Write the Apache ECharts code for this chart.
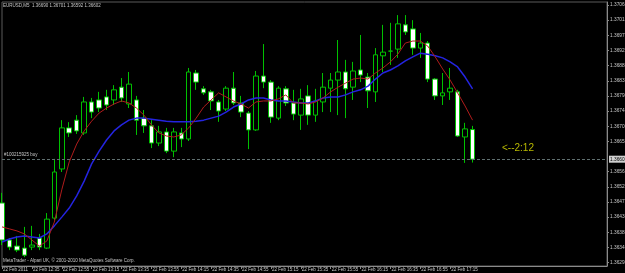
<!DOCTYPE html>
<html><head><meta charset="utf-8">
<script src="https://cdn.jsdelivr.net/npm/echarts@6/dist/echarts.min.js"></script>
<style>html,body{margin:0;padding:0;background:#000;}#c{width:625px;height:273px;}</style>
</head><body><div id="c"></div>
<script>
const symbolTitle = 'EURUSD,M5';
const titleValues = ['1.36690', '1.36701', '1.36592', '1.36602'];
const dateLabel = '22 Feb 2011';
const dayPrefix = '22 Feb ';
const barTimes = ['12:15','12:20','12:25','12:30','12:35','12:40','12:45','12:50','12:55','13:00',
  '13:05','13:10','13:15','13:20','13:25','13:30','13:35','13:40','13:45','13:50',
  '13:55','14:00','14:05','14:10','14:15','14:20','14:25','14:30','14:35','14:40',
  '14:45','14:50','14:55','15:00','15:05','15:10','15:15','15:20','15:25','15:30',
  '15:35','15:40','15:45','15:50','15:55','16:00','16:05','16:10','16:15','16:20',
  '16:25','16:30','16:35','16:40','16:45','16:50','16:55','17:00','17:05','17:10',
  '17:15','17:20','17:25','17:30'];
const openP = [1.36472,1.36362,1.36344,1.36338,1.36341,1.36368,1.36338,1.36427,1.36573,1.36695,
  1.36718,1.36680,1.36772,1.36778,1.36787,1.36778,1.36816,1.36766,1.36778,1.36724,
  1.36701,1.36650,1.36683,1.36626,1.36680,1.36662,1.36858,1.36811,1.36802,1.36772,
  1.36751,1.36813,1.36769,1.36739,1.36689,1.36849,1.36831,1.36724,1.36811,1.36769,
  1.36733,1.36790,1.36733,1.36772,1.36813,1.36837,1.36861,1.36816,1.36867,1.36846,
  1.36802,1.36909,1.36923,1.36929,1.37001,1.36989,1.36932,1.36947,1.36840,1.36790,
  1.36802,1.36802,1.36668,1.36690];
const highP = [1.36502,1.36368,1.36374,1.36401,1.36404,1.36380,1.36442,1.36603,1.36718,1.36712,
  1.36733,1.36787,1.36784,1.36802,1.36808,1.36822,1.36843,1.36861,1.36790,1.36748,
  1.36718,1.36701,1.36695,1.36695,1.36695,1.36873,1.36867,1.36819,1.36808,1.36778,
  1.36819,1.36861,1.36790,1.36745,1.36864,1.36944,1.36837,1.36819,1.36819,1.36808,
  1.36811,1.36822,1.36811,1.36858,1.36858,1.36956,1.36897,1.36891,1.36971,1.36858,
  1.36932,1.37001,1.37007,1.37030,1.37030,1.37015,1.36977,1.36953,1.36843,1.36858,
  1.36873,1.36808,1.36710,1.36701];
const lowP = [1.36347,1.36332,1.36326,1.36311,1.36332,1.36332,1.36335,1.36421,1.36564,1.36668,
  1.36677,1.36674,1.36724,1.36742,1.36748,1.36763,1.36772,1.36754,1.36674,1.36680,
  1.36635,1.36641,1.36620,1.36608,1.36638,1.36656,1.36808,1.36793,1.36748,1.36713,
  1.36745,1.36763,1.36727,1.36632,1.36686,1.36813,1.36710,1.36718,1.36760,1.36718,
  1.36689,1.36704,1.36713,1.36742,1.36742,1.36733,1.36724,1.36778,1.36831,1.36754,
  1.36772,1.36861,1.36882,1.36903,1.36971,1.36912,1.36903,1.36831,1.36778,1.36763,
  1.36778,1.36668,1.36591,1.36592];
const closeP = [1.36362,1.36341,1.36332,1.36317,1.36347,1.36341,1.36424,1.36564,1.36695,1.36680,
  1.36686,1.36772,1.36742,1.36754,1.36763,1.36808,1.36784,1.36825,1.36718,1.36701,
  1.36650,1.36683,1.36626,1.36683,1.36662,1.36861,1.36831,1.36799,1.36775,1.36745,
  1.36813,1.36769,1.36742,1.36689,1.36849,1.36831,1.36727,1.36813,1.36769,1.36736,
  1.36781,1.36733,1.36775,1.36816,1.36837,1.36861,1.36811,1.36864,1.36852,1.36805,
  1.36912,1.36920,1.36923,1.37004,1.36980,1.36932,1.36947,1.36840,1.36790,1.36799,
  1.36813,1.36671,1.36692,1.36602];
const maFast = [1.36401,1.36395,1.36389,1.36380,1.36362,1.36344,1.36359,1.36415,1.36511,1.36594,
  1.36647,1.36686,1.36715,1.36739,1.36754,1.36766,1.36775,1.36769,1.36754,1.36733,
  1.36704,1.36680,1.36671,1.36668,1.36674,1.36695,1.36724,1.36757,1.36778,1.36799,
  1.36787,1.36775,1.36766,1.36754,1.36772,1.36775,1.36775,1.36781,1.36793,1.36769,
  1.36769,1.36766,1.36772,1.36784,1.36802,1.36816,1.36828,1.36840,1.36843,1.36840,
  1.36858,1.36873,1.36891,1.36914,1.36947,1.36953,1.36953,1.36938,1.36906,1.36870,
  1.36837,1.36799,1.36760,1.36718];
const maSlow = [1.36356,1.36365,1.36371,1.36374,1.36371,1.36368,1.36380,1.36404,1.36430,1.36457,
  1.36493,1.36537,1.36588,1.36626,1.36659,1.36686,1.36704,1.36718,1.36724,1.36724,
  1.36721,1.36718,1.36715,1.36713,1.36713,1.36713,1.36715,1.36718,1.36724,1.36730,
  1.36742,1.36757,1.36766,1.36778,1.36784,1.36784,1.36778,1.36775,1.36775,1.36772,
  1.36769,1.36769,1.36775,1.36784,1.36787,1.36787,1.36793,1.36802,1.36808,1.36819,
  1.36840,1.36858,1.36867,1.36879,1.36894,1.36906,1.36917,1.36914,1.36909,1.36903,
  1.36891,1.36876,1.36846,1.36811];
const priceTicks = [1.37060,1.37015,1.36970,1.36925,1.36880,1.36835,1.36790,1.36745,1.36700,
  1.36655,1.36565,1.36520,1.36475,1.36430,1.36385,1.36340,1.36295];
const bidPrice = 1.36602;
const orderText = '#100215925 buy';
const timerText = '<--2:12';
const footerText = 'MetaTrader - Alpari UK, \u00a9 2001-2010 MetaQuotes Software Corp.';
const futureSlots = 18;

const candles = openP.map((o, i) => [o, closeP[i], lowP[i], highP[i]]);
const categories = barTimes.concat(new Array(futureSlots).fill(''));
const F = 'Liberation Sans, Arial, sans-serif';
const lastLabelIdx = barTimes.length - 4;
const showIdx = (idx) => idx % 4 === 0 && idx <= lastLabelIdx;

const chart = echarts.init(document.getElementById('c'), null, {renderer: 'canvas'});
chart.setOption({
  backgroundColor: '#000000',
  animation: false,
  grid: {left: 2, right: 18, top: 2, bottom: 7, outerBoundsMode: 'none', show: true,
    borderColor: '#5a5a5a', borderWidth: 1, backgroundColor: 'transparent'},
  xAxis: {
    type: 'category', data: categories, boundaryGap: false,
    axisLine: {show: true, lineStyle: {color: '#8a8a8a', width: 1}},
    axisTick: {show: true, interval: (i) => showIdx(i), length: 3, lineStyle: {color: '#8a8a8a'}},
    axisLabel: {show: true, interval: (i) => showIdx(i), align: 'left', verticalAlign: 'top',
      margin: 1, padding: [0, 0, 0, 1], color: '#c8c8c8', fontSize: 4.5, fontFamily: F,
      formatter: (v, idx) => idx === 0 ? dateLabel : dayPrefix + v},
    splitLine: {show: false}
  },
  yAxis: {
    type: 'value', position: 'right', scale: true,
    min: 1.362848, max: 1.370689,
    axisLine: {show: true, lineStyle: {color: '#8a8a8a', width: 1}},
    axisTick: {show: true, length: 2, customValues: priceTicks, lineStyle: {color: '#8a8a8a'}},
    axisLabel: {show: true, customValues: priceTicks, margin: 3, color: '#c8c8c8',
      fontSize: 4.8, fontFamily: F, formatter: (v) => Number(v).toFixed(5)},
    splitLine: {show: false}
  },
  series: [
    {
      type: 'candlestick', data: candles, barWidth: 5,
      itemStyle: {color: '#000000', color0: '#ffffff', borderColor: '#00c000', borderColor0: '#00c000', borderWidth: 1},
      z: 3
    },
    {type: 'line', data: maSlow, showSymbol: false, symbol: 'none', smooth: false,
      lineStyle: {color: '#2424e0', width: 1.5}, z: 4},
    {type: 'line', data: maFast, showSymbol: false, symbol: 'none', smooth: false,
      lineStyle: {color: '#b01c1c', width: 1}, z: 5,
      markLine: {
        symbol: 'none', silent: true, animation: false, precision: 5,
        data: [{yAxis: bidPrice}],
        lineStyle: {color: '#607070', type: [3, 2], width: 1},
        label: {show: true, position: 'end', distance: 2, formatter: bidPrice.toFixed(5),
          color: '#000', backgroundColor: '#d0d0d0', fontSize: 4.8, fontFamily: F, padding: [1, 1]}
      }
    }
  ],
  graphic: [
    {type: 'text', left: 3, top: 3, z: 10, style: {text: symbolTitle + '  ' + titleValues.join(' '), fill: '#c8c8c8', font: '4.5px ' + F}},
    {type: 'text', left: 4, top: 152, z: 10, style: {text: orderText, fill: '#c8c8c8', font: '4.5px ' + F}},
    {type: 'text', left: 502, top: 143, z: 10, style: {text: timerText, fill: '#b8b800', font: '10px ' + F}},
    {type: 'text', left: 3, top: 258, z: 10, style: {text: footerText, fill: '#c8c8c8', font: '4.5px ' + F}}
  ]
});
</script></body></html>
